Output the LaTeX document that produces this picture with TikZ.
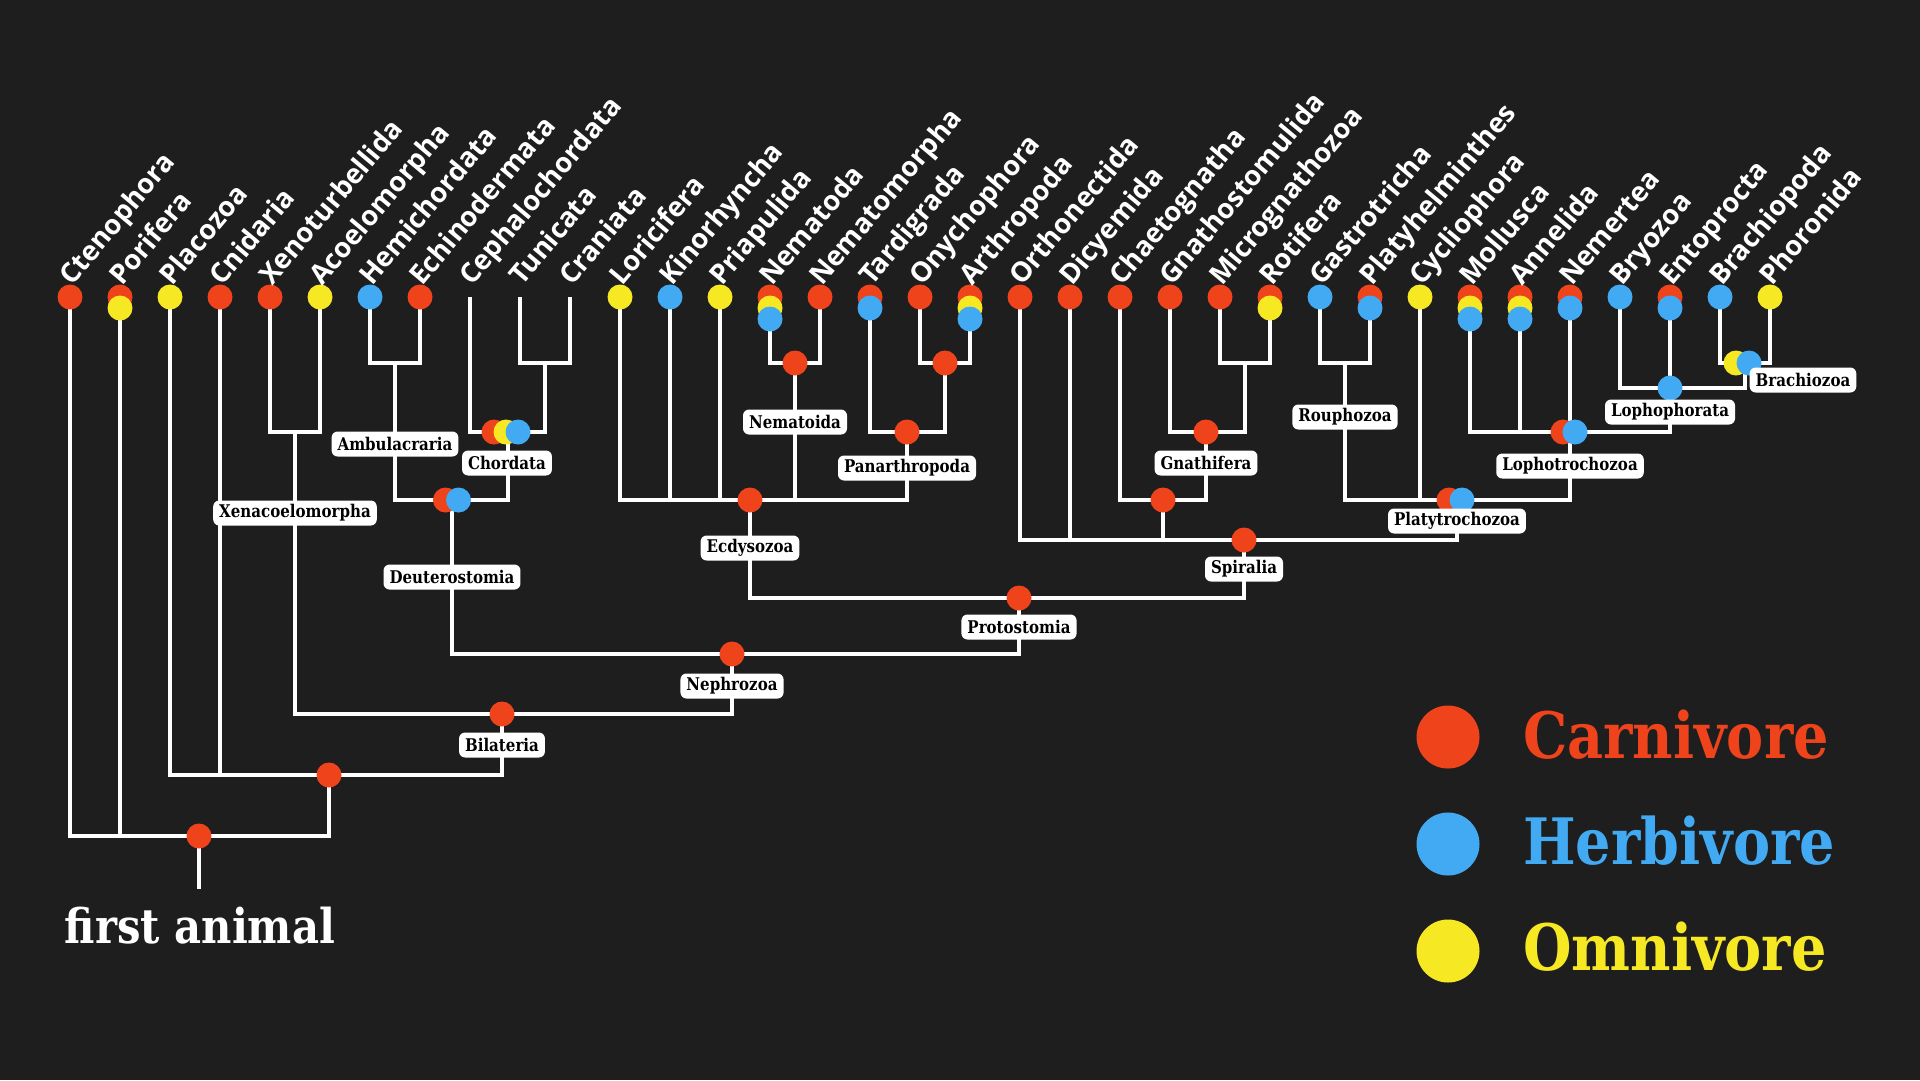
\documentclass[tikz,border=0pt]{standalone}
\usepackage{fontspec}
\setmainfont{DejaVu Serif}
\newfontfamily\leaffont{Open Sans}
\newfontfamily\boxfont[FakeStretch=0.86]{DejaVu Serif}
\newfontfamily\dispfont[FakeStretch=0.87]{DejaVu Serif}
\definecolor{bgc}{HTML}{1E1E1E}
\definecolor{cR}{HTML}{EF431B}
\definecolor{cB}{HTML}{42AAF2}
\definecolor{cY}{HTML}{F6E822}
\tikzset{
  branch/.style={draw=white, line width=3.5pt, line join=miter},
  dot/.style={circle, inner sep=0pt, minimum size=25pt, draw=none},
  leaflab/.style={text=white, inner sep=0pt, anchor=base west, rotate=50,
    font=\leaffont\bfseries\fontsize{27.5}{29}\selectfont},
  clade/.style={fill=white, rounded corners=6pt, inner xsep=6pt, inner ysep=0pt,
    minimum height=25pt, text=black, font=\boxfont\bfseries\fontsize{17.5}{19}\selectfont},
  legdot/.style={circle, inner sep=0pt, minimum size=63pt},
  legtext/.style={anchor=base west, inner sep=0pt, font=\dispfont\bfseries\fontsize{64}{70}\selectfont}
}
\begin{document}
\begin{tikzpicture}[x=1pt,y=-1pt]
\fill[bgc] (0,0) rectangle (1920,1080);
\useasboundingbox (0,0) rectangle (1920,1080);

% leaf coordinates
\foreach \i in {1,...,35} \coordinate (L\i) at ({70+50*(\i-1)},297);

% internal coordinates
\coordinate (root) at (199,836);
\coordinate (stem) at (199,889);
\coordinate (nA) at (329,775);
\coordinate (bil) at (502,714);
\coordinate (xen) at (295,432);
\coordinate (neph) at (732,654);
\coordinate (deut) at (452,500);
\coordinate (amb) at (395,363);
\coordinate (chor) at (508,432);
\coordinate (tc) at (545,363);
\coordinate (prot) at (1019,598);
\coordinate (ecd) at (750,500);
\coordinate (nemd) at (795,363);
\coordinate (pan) at (907,432);
\coordinate (oa) at (945,363);
\coordinate (spir) at (1244,540);
\coordinate (cg) at (1163,500);
\coordinate (gna) at (1206,432);
\coordinate (mr) at (1245,363);
\coordinate (plat) at (1457,500);
\coordinate (rou) at (1345,363);
\coordinate (loph) at (1570,432);
\coordinate (lphr) at (1670,388);
\coordinate (brz) at (1745,363);

% branches
\draw[branch] (root) -- (stem);
\foreach \c/\p in {L1/root,L2/root,nA/root,
  L3/nA,L4/nA,bil/nA,
  xen/bil,neph/bil,
  L5/xen,L6/xen,
  deut/neph,prot/neph,
  amb/deut,chor/deut,
  L7/amb,L8/amb,
  L9/chor,tc/chor,
  L10/tc,L11/tc,
  ecd/prot,spir/prot,
  L12/ecd,L13/ecd,L14/ecd,nemd/ecd,pan/ecd,
  L15/nemd,L16/nemd,
  L17/pan,oa/pan,
  L18/oa,L19/oa,
  L20/spir,L21/spir,cg/spir,plat/spir,
  L22/cg,gna/cg,
  L23/gna,mr/gna,
  L24/mr,L25/mr,
  rou/plat,L28/plat,loph/plat,
  L26/rou,L27/rou,
  L29/loph,L30/loph,L31/loph,lphr/loph,
  L32/lphr,L33/lphr,brz/lphr,
  L34/brz,L35/brz}
  \draw[branch] (\c) |- (\p);

% leaf dots
\foreach \i/\cols in {1/{R},2/{R,Y},3/{Y},4/{R},5/{R},6/{Y},7/{B},8/{R},
  12/{Y},13/{B},14/{Y},15/{R,Y,B},16/{R},17/{R,B},18/{R},19/{R,Y,B},
  20/{R},21/{R},22/{R},23/{R},24/{R},25/{R,Y},26/{B},27/{R,B},28/{Y},
  29/{R,Y,B},30/{R,Y,B},31/{R,B},32/{B},33/{R,B},34/{B},35/{Y}}
  \foreach \c [count=\k from 0] in \cols
    \node[dot, fill=c\c] (d\i-\k) at ([yshift=-11*\k pt]L\i) {};

% internal dots
\foreach \n/\c in {root/R,nA/R,bil/R,neph/R,prot/R,ecd/R,nemd/R,pan/R,oa/R,spir/R,cg/R,gna/R,lphr/B}
  \node[dot, fill=c\c] (dot-\n) at (\n) {};
\node[dot, fill=cR] (deut-r) at ([xshift=-6.5pt]deut) {};
\node[dot, fill=cB] (deut-b) at ([xshift=6.5pt]deut) {};
\node[dot, fill=cR] (chor-r) at (494,432) {};
\node[dot, fill=cY] (chor-y) at (506,432) {};
\node[dot, fill=cB] (chor-b) at (518,432) {};
\node[dot, fill=cR] (plat-r) at ([xshift=-8pt]plat) {};
\node[dot, fill=cB] (plat-b) at ([xshift=5pt]plat) {};
\node[dot, fill=cR] (loph-r) at ([xshift=-7pt]loph) {};
\node[dot, fill=cB] (loph-b) at ([xshift=5pt]loph) {};
\node[dot, fill=cY] (brz-y) at ([xshift=-9pt]brz) {};
\node[dot, fill=cB] (brz-b) at ([xshift=4pt]brz) {};

% leaf labels
\foreach \i/\nm in {1/Ctenophora,2/Porifera,3/Placozoa,4/Cnidaria,5/Xenoturbellida,
  6/Acoelomorpha,7/Hemichordata,8/Echinodermata,9/Cephalochordata,10/Tunicata,
  11/Craniata,12/Loricifera,13/Kinorhyncha,14/Priapulida,15/Nematoda,
  16/Nematomorpha,17/Tardigrada,18/Onychophora,19/Arthropoda,20/Orthonectida,
  21/Dicyemida,22/Chaetognatha,23/Gnathostomulida,24/Micrognathozoa,25/Rotifera,
  26/Gastrotricha,27/Platyhelminthes,28/Cycliophora,29/Mollusca,30/Annelida,
  31/Nemertea,32/Bryozoa,33/Entoprocta,34/Brachiopoda,35/Phoronida}
  \node[leaflab] (t\i) at ([xshift=2pt,yshift=10pt]L\i) {\nm};

% clade labels
\node[clade] (lab-amb) at (395,444) {Ambulacraria};
\node[clade] (lab-chor) at (507,463) {Chordata};
\node[clade] (lab-xen) at (295,513) {Xenacoelomorpha};
\node[clade] (lab-deut) at (452,577) {Deuterostomia};
\node[clade] (lab-neph) at (732,686) {Nephrozoa};
\node[clade] (lab-bil) at (502,745) {Bilateria};
\node[clade] (lab-nemd) at (795,422) {Nematoida};
\node[clade] (lab-pan) at (907,468) {Panarthropoda};
\node[clade] (lab-ecd) at (750,548) {Ecdysozoa};
\node[clade] (lab-gna) at (1206,463) {Gnathifera};
\node[clade] (lab-spir) at (1244,569) {Spiralia};
\node[clade] (lab-prot) at (1019,627) {Protostomia};
\node[clade] (lab-rou) at (1345,417) {Rouphozoa};
\node[clade] (lab-plat) at (1457,521) {Platytrochozoa};
\node[clade] (lab-loph) at (1570,466) {Lophotrochozoa};
\node[clade] (lab-lphr) at (1670,412) {Lophophorata};
\node[clade] (lab-brz) at (1803,380) {Brachiozoa};

% first animal
\node[anchor=base, inner sep=0pt, text=white, font=\dispfont\bfseries\fontsize{48}{54}\selectfont] (first) at (200,943) {first animal};

% legend
\node[legdot, fill=cR] (leg-r) at (1448,737) {};
\node[legdot, fill=cB] (leg-b) at (1448,844) {};
\node[legdot, fill=cY] (leg-y) at (1448,951) {};
\node[legtext, text=cR] (leg-rt) at (1523,758) {Carnivore};
\node[legtext, text=cB] (leg-bt) at (1523,864) {Herbivore};
\node[legtext, text=cY] (leg-yt) at (1523,970) {Omnivore};
\end{tikzpicture}
\end{document}
